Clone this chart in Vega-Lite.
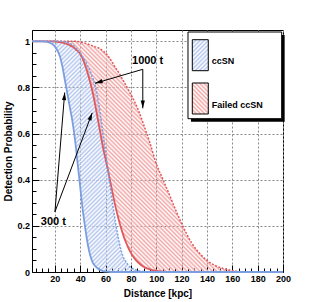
{
"$schema":"https://vega.github.io/schema/vega-lite/v6.json",
"width":251,"height":242,
"autosize":{"type":"none"},
"padding":{"left":32,"top":30,"right":32,"bottom":30},
"background":"white",
"config":{"view":{"stroke":"black","strokeWidth":1},"font":"Liberation Sans"},
"datasets":{
"curves":[
{"x":2,"bs":1,"bd":1,"rs":1,"rd":1},
{"x":10,"bs":1,"bd":1,"rs":1,"rd":1},
{"x":14,"bs":0.997,"bd":1,"rs":1,"rd":1},
{"x":18,"bs":0.988,"bd":1,"rs":1,"rd":1},
{"x":20,"bs":0.978,"bd":1,"rs":0.999,"rd":1},
{"x":22,"bs":0.96,"bd":1,"rs":0.998,"rd":1},
{"x":24,"bs":0.935,"bd":1,"rs":0.996,"rd":1},
{"x":26,"bs":0.89,"bd":0.999,"rs":0.994,"rd":1},
{"x":28,"bs":0.83,"bd":0.997,"rs":0.991,"rd":1},
{"x":30,"bs":0.77,"bd":0.995,"rs":0.988,"rd":1},
{"x":32,"bs":0.71,"bd":0.99,"rs":0.982,"rd":1},
{"x":34,"bs":0.65,"bd":0.985,"rs":0.976,"rd":1},
{"x":36,"bs":0.57,"bd":0.975,"rs":0.968,"rd":1},
{"x":38,"bs":0.47,"bd":0.963,"rs":0.958,"rd":0.999},
{"x":40,"bs":0.37,"bd":0.95,"rs":0.945,"rd":0.997},
{"x":42,"bs":0.27,"bd":0.933,"rs":0.925,"rd":0.995},
{"x":44,"bs":0.19,"bd":0.915,"rs":0.895,"rd":0.992},
{"x":46,"bs":0.12,"bd":0.893,"rs":0.86,"rd":0.988},
{"x":48,"bs":0.07,"bd":0.87,"rs":0.82,"rd":0.984},
{"x":50,"bs":0.04,"bd":0.84,"rs":0.775,"rd":0.98},
{"x":52,"bs":0.025,"bd":0.805,"rs":0.72,"rd":0.976},
{"x":54,"bs":0.015,"bd":0.75,"rs":0.66,"rd":0.972},
{"x":56,"bs":0.008,"bd":0.68,"rs":0.6,"rd":0.966},
{"x":58,"bs":0.004,"bd":0.6,"rs":0.54,"rd":0.958},
{"x":60,"bs":0.002,"bd":0.52,"rs":0.49,"rd":0.95},
{"x":62,"bs":0.001,"bd":0.44,"rs":0.44,"rd":0.936},
{"x":64,"bs":0,"bd":0.36,"rs":0.385,"rd":0.92},
{"x":66,"bs":0,"bd":0.28,"rs":0.33,"rd":0.903},
{"x":68,"bs":0,"bd":0.21,"rs":0.28,"rd":0.885},
{"x":70,"bs":0,"bd":0.15,"rs":0.235,"rd":0.868},
{"x":72,"bs":0,"bd":0.1,"rs":0.195,"rd":0.85},
{"x":74,"bs":0,"bd":0.065,"rs":0.16,"rd":0.83},
{"x":76,"bs":0,"bd":0.045,"rs":0.13,"rd":0.81},
{"x":78,"bs":0,"bd":0.03,"rs":0.105,"rd":0.79},
{"x":80,"bs":0,"bd":0.02,"rs":0.083,"rd":0.77},
{"x":83,"bs":0,"bd":0.011,"rs":0.058,"rd":0.737},
{"x":86,"bs":0,"bd":0.006,"rs":0.04,"rd":0.7},
{"x":90,"bs":0,"bd":0.002,"rs":0.023,"rd":0.64},
{"x":95,"bs":0,"bd":0,"rs":0.011,"rd":0.56},
{"x":100,"bs":0,"bd":0,"rs":0.005,"rd":0.47},
{"x":105,"bs":0,"bd":0,"rs":0.002,"rd":0.405},
{"x":110,"bs":0,"bd":0,"rs":0,"rd":0.34},
{"x":116,"bs":0,"bd":0,"rs":0,"rd":0.26},
{"x":120,"bs":0,"bd":0,"rs":0,"rd":0.21},
{"x":124,"bs":0,"bd":0,"rs":0,"rd":0.165},
{"x":128,"bs":0,"bd":0,"rs":0,"rd":0.125},
{"x":132,"bs":0,"bd":0,"rs":0,"rd":0.095},
{"x":136,"bs":0,"bd":0,"rs":0,"rd":0.07},
{"x":140,"bs":0,"bd":0,"rs":0,"rd":0.05},
{"x":145,"bs":0,"bd":0,"rs":0,"rd":0.032},
{"x":150,"bs":0,"bd":0,"rs":0,"rd":0.02},
{"x":155,"bs":0,"bd":0,"rs":0,"rd":0.012},
{"x":160,"bs":0,"bd":0,"rs":0,"rd":0.006},
{"x":165,"bs":0,"bd":0,"rs":0,"rd":0.002},
{"x":170,"bs":0,"bd":0,"rs":0,"rd":0},
{"x":180,"bs":0,"bd":0,"rs":0,"rd":0},
{"x":200,"bs":0,"bd":0,"rs":0,"rd":0}
],
"arrows":[
{"id":"a1","x":89.4,"y":0.8786,"x2":51.7,"y2":0.818},
{"id":"a2","x":89.4,"y":0.8786,"x2":89.4,"y2":0.7096},
{"id":"a3","x":20.1,"y":0.261,"x2":27.8,"y2":0.778},
{"id":"a4","x":20.1,"y":0.261,"x2":49.5,"y2":0.69}
],
"annot":[
{"x":93.2,"y":0.9146,"label":"1000 t"},
{"x":18.8,"y":0.2154,"label":"300 t"}
],
"legend":[
{"part":"shadow","x":127.4,"x2":201.3,"y":0.6515,"y2":1.027},
{"part":"box","x":125.05,"x2":198.97,"y":0.6645,"y2":1.0403},
{"part":"ccSN","x":128.45,"x2":141.07,"y":0.8726,"y2":1.007},
{"part":"Failed ccSN","x":128.45,"x2":141.07,"y":0.6849,"y2":0.8193}
],
"legtext":[
{"x":143.75,"y":0.9146,"label":"ccSN"},
{"x":143.75,"y":0.726,"label":"Failed ccSN"}
]
},
"resolve":{"axis":{"x":"independent","y":"independent"}},
"layer":[
{"data":{"name":"curves"},"transform":[{"filter":"datum.x >= 10 && datum.x <= 95"}],
"mark":{"type":"area","interpolate":"monotone","opacity":1,"fill":{"gradient":"linear","x1":0,"y1":0,"x2":0.7022,"y2":1.5055,"stops":[
{"offset":0.00,"color":"#b4c6ee"},{"offset":0.005,"color":"#b4c6ee00"},{"offset":0.01,"color":"#b4c6ee"},{"offset":0.015,"color":"#b4c6ee00"},{"offset":0.02,"color":"#b4c6ee"},{"offset":0.025,"color":"#b4c6ee00"},{"offset":0.03,"color":"#b4c6ee"},{"offset":0.035,"color":"#b4c6ee00"},{"offset":0.04,"color":"#b4c6ee"},{"offset":0.045,"color":"#b4c6ee00"},{"offset":0.05,"color":"#b4c6ee"},{"offset":0.055,"color":"#b4c6ee00"},{"offset":0.06,"color":"#b4c6ee"},{"offset":0.065,"color":"#b4c6ee00"},{"offset":0.07,"color":"#b4c6ee"},{"offset":0.075,"color":"#b4c6ee00"},{"offset":0.08,"color":"#b4c6ee"},{"offset":0.085,"color":"#b4c6ee00"},{"offset":0.09,"color":"#b4c6ee"},{"offset":0.095,"color":"#b4c6ee00"},
{"offset":0.10,"color":"#b4c6ee"},{"offset":0.105,"color":"#b4c6ee00"},{"offset":0.11,"color":"#b4c6ee"},{"offset":0.115,"color":"#b4c6ee00"},{"offset":0.12,"color":"#b4c6ee"},{"offset":0.125,"color":"#b4c6ee00"},{"offset":0.13,"color":"#b4c6ee"},{"offset":0.135,"color":"#b4c6ee00"},{"offset":0.14,"color":"#b4c6ee"},{"offset":0.145,"color":"#b4c6ee00"},{"offset":0.15,"color":"#b4c6ee"},{"offset":0.155,"color":"#b4c6ee00"},{"offset":0.16,"color":"#b4c6ee"},{"offset":0.165,"color":"#b4c6ee00"},{"offset":0.17,"color":"#b4c6ee"},{"offset":0.175,"color":"#b4c6ee00"},{"offset":0.18,"color":"#b4c6ee"},{"offset":0.185,"color":"#b4c6ee00"},{"offset":0.19,"color":"#b4c6ee"},{"offset":0.195,"color":"#b4c6ee00"},
{"offset":0.20,"color":"#b4c6ee"},{"offset":0.205,"color":"#b4c6ee00"},{"offset":0.21,"color":"#b4c6ee"},{"offset":0.215,"color":"#b4c6ee00"},{"offset":0.22,"color":"#b4c6ee"},{"offset":0.225,"color":"#b4c6ee00"},{"offset":0.23,"color":"#b4c6ee"},{"offset":0.235,"color":"#b4c6ee00"},{"offset":0.24,"color":"#b4c6ee"},{"offset":0.245,"color":"#b4c6ee00"},{"offset":0.25,"color":"#b4c6ee"},{"offset":0.255,"color":"#b4c6ee00"},{"offset":0.26,"color":"#b4c6ee"},{"offset":0.265,"color":"#b4c6ee00"},{"offset":0.27,"color":"#b4c6ee"},{"offset":0.275,"color":"#b4c6ee00"},{"offset":0.28,"color":"#b4c6ee"},{"offset":0.285,"color":"#b4c6ee00"},{"offset":0.29,"color":"#b4c6ee"},{"offset":0.295,"color":"#b4c6ee00"},
{"offset":0.30,"color":"#b4c6ee"},{"offset":0.305,"color":"#b4c6ee00"},{"offset":0.31,"color":"#b4c6ee"},{"offset":0.315,"color":"#b4c6ee00"},{"offset":0.32,"color":"#b4c6ee"},{"offset":0.325,"color":"#b4c6ee00"},{"offset":0.33,"color":"#b4c6ee"},{"offset":0.335,"color":"#b4c6ee00"},{"offset":0.34,"color":"#b4c6ee"},{"offset":0.345,"color":"#b4c6ee00"},{"offset":0.35,"color":"#b4c6ee"},{"offset":0.355,"color":"#b4c6ee00"},{"offset":0.36,"color":"#b4c6ee"},{"offset":0.365,"color":"#b4c6ee00"},{"offset":0.37,"color":"#b4c6ee"},{"offset":0.375,"color":"#b4c6ee00"},{"offset":0.38,"color":"#b4c6ee"},{"offset":0.385,"color":"#b4c6ee00"},{"offset":0.39,"color":"#b4c6ee"},{"offset":0.395,"color":"#b4c6ee00"},
{"offset":0.40,"color":"#b4c6ee"},{"offset":0.405,"color":"#b4c6ee00"},{"offset":0.41,"color":"#b4c6ee"},{"offset":0.415,"color":"#b4c6ee00"},{"offset":0.42,"color":"#b4c6ee"},{"offset":0.425,"color":"#b4c6ee00"},{"offset":0.43,"color":"#b4c6ee"},{"offset":0.435,"color":"#b4c6ee00"},{"offset":0.44,"color":"#b4c6ee"},{"offset":0.445,"color":"#b4c6ee00"},{"offset":0.45,"color":"#b4c6ee"},{"offset":0.455,"color":"#b4c6ee00"},{"offset":0.46,"color":"#b4c6ee"},{"offset":0.465,"color":"#b4c6ee00"},{"offset":0.47,"color":"#b4c6ee"},{"offset":0.475,"color":"#b4c6ee00"},{"offset":0.48,"color":"#b4c6ee"},{"offset":0.485,"color":"#b4c6ee00"},{"offset":0.49,"color":"#b4c6ee"},{"offset":0.495,"color":"#b4c6ee00"},
{"offset":0.50,"color":"#b4c6ee"},{"offset":0.505,"color":"#b4c6ee00"},{"offset":0.51,"color":"#b4c6ee"},{"offset":0.515,"color":"#b4c6ee00"},{"offset":0.52,"color":"#b4c6ee"},{"offset":0.525,"color":"#b4c6ee00"},{"offset":0.53,"color":"#b4c6ee"},{"offset":0.535,"color":"#b4c6ee00"},{"offset":0.54,"color":"#b4c6ee"},{"offset":0.545,"color":"#b4c6ee00"},{"offset":0.55,"color":"#b4c6ee"},{"offset":0.555,"color":"#b4c6ee00"},{"offset":0.56,"color":"#b4c6ee"},{"offset":0.565,"color":"#b4c6ee00"},{"offset":0.57,"color":"#b4c6ee"},{"offset":0.575,"color":"#b4c6ee00"},{"offset":0.58,"color":"#b4c6ee"},{"offset":0.585,"color":"#b4c6ee00"},{"offset":0.59,"color":"#b4c6ee"},{"offset":0.595,"color":"#b4c6ee00"},
{"offset":0.60,"color":"#b4c6ee"},{"offset":0.605,"color":"#b4c6ee00"},{"offset":0.61,"color":"#b4c6ee"},{"offset":0.615,"color":"#b4c6ee00"},{"offset":0.62,"color":"#b4c6ee"},{"offset":0.625,"color":"#b4c6ee00"},{"offset":0.63,"color":"#b4c6ee"},{"offset":0.635,"color":"#b4c6ee00"},{"offset":0.64,"color":"#b4c6ee"},{"offset":0.645,"color":"#b4c6ee00"},{"offset":0.65,"color":"#b4c6ee"},{"offset":0.655,"color":"#b4c6ee00"},{"offset":0.66,"color":"#b4c6ee"},{"offset":0.665,"color":"#b4c6ee00"},{"offset":0.67,"color":"#b4c6ee"},{"offset":0.675,"color":"#b4c6ee00"},{"offset":0.68,"color":"#b4c6ee"},{"offset":0.685,"color":"#b4c6ee00"},{"offset":0.69,"color":"#b4c6ee"},{"offset":0.695,"color":"#b4c6ee00"},
{"offset":0.70,"color":"#b4c6ee"},{"offset":0.705,"color":"#b4c6ee00"},{"offset":0.71,"color":"#b4c6ee"},{"offset":0.715,"color":"#b4c6ee00"},{"offset":0.72,"color":"#b4c6ee"},{"offset":0.725,"color":"#b4c6ee00"},{"offset":0.73,"color":"#b4c6ee"},{"offset":0.735,"color":"#b4c6ee00"},{"offset":0.74,"color":"#b4c6ee"},{"offset":0.745,"color":"#b4c6ee00"},{"offset":0.75,"color":"#b4c6ee"},{"offset":0.755,"color":"#b4c6ee00"},{"offset":0.76,"color":"#b4c6ee"},{"offset":0.765,"color":"#b4c6ee00"},{"offset":0.77,"color":"#b4c6ee"},{"offset":0.775,"color":"#b4c6ee00"},{"offset":0.78,"color":"#b4c6ee"},{"offset":0.785,"color":"#b4c6ee00"},{"offset":0.79,"color":"#b4c6ee"},{"offset":0.795,"color":"#b4c6ee00"},
{"offset":0.80,"color":"#b4c6ee"},{"offset":0.805,"color":"#b4c6ee00"},{"offset":0.81,"color":"#b4c6ee"},{"offset":0.815,"color":"#b4c6ee00"},{"offset":0.82,"color":"#b4c6ee"},{"offset":0.825,"color":"#b4c6ee00"},{"offset":0.83,"color":"#b4c6ee"},{"offset":0.835,"color":"#b4c6ee00"},{"offset":0.84,"color":"#b4c6ee"},{"offset":0.845,"color":"#b4c6ee00"},{"offset":0.85,"color":"#b4c6ee"}
]}},
"encoding":{
"x":{"field":"x","type":"quantitative","scale":{"domain":[2,200],"nice":false,"zero":false},
"axis":{"orient":"bottom","values":[20,40,60,80,100,120,140,160,180,200],"ticks":false,"domain":true,"domainColor":"black","domainWidth":1,"grid":true,"gridColor":"#888","gridDash":[2,2],"gridWidth":1,"labelFont":"Liberation Sans","labelFontWeight":"bold","labelFontSize":9,"labelColor":"black","labelPadding":2,"labelFlush":false,"labelOverlap":false,"format":"d","title":"Distance [kpc]","titleFont":"Liberation Sans","titleFontWeight":"bold","titleFontSize":10,"titleColor":"black","titleX":125.5,"titleY":21,"titleAlign":"center","titleBaseline":"middle"}},
"y":{"field":"bd","type":"quantitative","scale":{"domain":[0,1.049],"nice":false,"zero":false},
"axis":{"orient":"left","values":[0,0.2,0.4,0.6,0.8,1],"ticks":false,"domain":true,"domainColor":"black","domainWidth":1,"grid":true,"gridColor":"#888","gridDash":[2,2],"gridWidth":1,"labelFont":"Liberation Sans","labelFontWeight":"bold","labelFontSize":9,"labelColor":"black","labelPadding":2.5,"labelFlush":false,"labelOverlap":false,"labelExpr":"datum.value == 0 ? '0' : datum.value == 1 ? '1' : format(datum.value, '.1f')","title":"Detection Probability","titleFont":"Liberation Sans","titleFontWeight":"bold","titleFontSize":10,"titleColor":"black","titleX":-23.5,"titleY":121,"titleAngle":-90,"titleAlign":"center","titleBaseline":"middle"}},
"y2":{"field":"bs"}}},
{"data":{"name":"curves"},"transform":[{"filter":"datum.x >= 18 && datum.x <= 170"}],
"mark":{"type":"area","interpolate":"monotone","opacity":1,"fill":{"gradient":"linear","x1":0,"y1":1,"x2":0.9015,"y2":-0.081,"stops":[
{"offset":0.00,"color":"#f2a6a6"},{"offset":0.005,"color":"#f2a6a600"},{"offset":0.01,"color":"#f2a6a6"},{"offset":0.015,"color":"#f2a6a600"},{"offset":0.02,"color":"#f2a6a6"},{"offset":0.025,"color":"#f2a6a600"},{"offset":0.03,"color":"#f2a6a6"},{"offset":0.035,"color":"#f2a6a600"},{"offset":0.04,"color":"#f2a6a6"},{"offset":0.045,"color":"#f2a6a600"},{"offset":0.05,"color":"#f2a6a6"},{"offset":0.055,"color":"#f2a6a600"},{"offset":0.06,"color":"#f2a6a6"},{"offset":0.065,"color":"#f2a6a600"},{"offset":0.07,"color":"#f2a6a6"},{"offset":0.075,"color":"#f2a6a600"},{"offset":0.08,"color":"#f2a6a6"},{"offset":0.085,"color":"#f2a6a600"},{"offset":0.09,"color":"#f2a6a6"},{"offset":0.095,"color":"#f2a6a600"},
{"offset":0.10,"color":"#f2a6a6"},{"offset":0.105,"color":"#f2a6a600"},{"offset":0.11,"color":"#f2a6a6"},{"offset":0.115,"color":"#f2a6a600"},{"offset":0.12,"color":"#f2a6a6"},{"offset":0.125,"color":"#f2a6a600"},{"offset":0.13,"color":"#f2a6a6"},{"offset":0.135,"color":"#f2a6a600"},{"offset":0.14,"color":"#f2a6a6"},{"offset":0.145,"color":"#f2a6a600"},{"offset":0.15,"color":"#f2a6a6"},{"offset":0.155,"color":"#f2a6a600"},{"offset":0.16,"color":"#f2a6a6"},{"offset":0.165,"color":"#f2a6a600"},{"offset":0.17,"color":"#f2a6a6"},{"offset":0.175,"color":"#f2a6a600"},{"offset":0.18,"color":"#f2a6a6"},{"offset":0.185,"color":"#f2a6a600"},{"offset":0.19,"color":"#f2a6a6"},{"offset":0.195,"color":"#f2a6a600"},
{"offset":0.20,"color":"#f2a6a6"},{"offset":0.205,"color":"#f2a6a600"},{"offset":0.21,"color":"#f2a6a6"},{"offset":0.215,"color":"#f2a6a600"},{"offset":0.22,"color":"#f2a6a6"},{"offset":0.225,"color":"#f2a6a600"},{"offset":0.23,"color":"#f2a6a6"},{"offset":0.235,"color":"#f2a6a600"},{"offset":0.24,"color":"#f2a6a6"},{"offset":0.245,"color":"#f2a6a600"},{"offset":0.25,"color":"#f2a6a6"},{"offset":0.255,"color":"#f2a6a600"},{"offset":0.26,"color":"#f2a6a6"},{"offset":0.265,"color":"#f2a6a600"},{"offset":0.27,"color":"#f2a6a6"},{"offset":0.275,"color":"#f2a6a600"},{"offset":0.28,"color":"#f2a6a6"},{"offset":0.285,"color":"#f2a6a600"},{"offset":0.29,"color":"#f2a6a6"},{"offset":0.295,"color":"#f2a6a600"},
{"offset":0.30,"color":"#f2a6a6"},{"offset":0.305,"color":"#f2a6a600"},{"offset":0.31,"color":"#f2a6a6"},{"offset":0.315,"color":"#f2a6a600"},{"offset":0.32,"color":"#f2a6a6"},{"offset":0.325,"color":"#f2a6a600"},{"offset":0.33,"color":"#f2a6a6"},{"offset":0.335,"color":"#f2a6a600"},{"offset":0.34,"color":"#f2a6a6"},{"offset":0.345,"color":"#f2a6a600"},{"offset":0.35,"color":"#f2a6a6"},{"offset":0.355,"color":"#f2a6a600"},{"offset":0.36,"color":"#f2a6a6"},{"offset":0.365,"color":"#f2a6a600"},{"offset":0.37,"color":"#f2a6a6"},{"offset":0.375,"color":"#f2a6a600"},{"offset":0.38,"color":"#f2a6a6"},{"offset":0.385,"color":"#f2a6a600"},{"offset":0.39,"color":"#f2a6a6"},{"offset":0.395,"color":"#f2a6a600"},
{"offset":0.40,"color":"#f2a6a6"},{"offset":0.405,"color":"#f2a6a600"},{"offset":0.41,"color":"#f2a6a6"},{"offset":0.415,"color":"#f2a6a600"},{"offset":0.42,"color":"#f2a6a6"},{"offset":0.425,"color":"#f2a6a600"},{"offset":0.43,"color":"#f2a6a6"},{"offset":0.435,"color":"#f2a6a600"},{"offset":0.44,"color":"#f2a6a6"},{"offset":0.445,"color":"#f2a6a600"},{"offset":0.45,"color":"#f2a6a6"},{"offset":0.455,"color":"#f2a6a600"},{"offset":0.46,"color":"#f2a6a6"},{"offset":0.465,"color":"#f2a6a600"},{"offset":0.47,"color":"#f2a6a6"},{"offset":0.475,"color":"#f2a6a600"},{"offset":0.48,"color":"#f2a6a6"},{"offset":0.485,"color":"#f2a6a600"},{"offset":0.49,"color":"#f2a6a6"},{"offset":0.495,"color":"#f2a6a600"},
{"offset":0.50,"color":"#f2a6a6"},{"offset":0.505,"color":"#f2a6a600"},{"offset":0.51,"color":"#f2a6a6"},{"offset":0.515,"color":"#f2a6a600"},{"offset":0.52,"color":"#f2a6a6"},{"offset":0.525,"color":"#f2a6a600"},{"offset":0.53,"color":"#f2a6a6"},{"offset":0.535,"color":"#f2a6a600"},{"offset":0.54,"color":"#f2a6a6"},{"offset":0.545,"color":"#f2a6a600"},{"offset":0.55,"color":"#f2a6a6"},{"offset":0.555,"color":"#f2a6a600"},{"offset":0.56,"color":"#f2a6a6"},{"offset":0.565,"color":"#f2a6a600"},{"offset":0.57,"color":"#f2a6a6"},{"offset":0.575,"color":"#f2a6a600"},{"offset":0.58,"color":"#f2a6a6"},{"offset":0.585,"color":"#f2a6a600"},{"offset":0.59,"color":"#f2a6a6"},{"offset":0.595,"color":"#f2a6a600"},
{"offset":0.60,"color":"#f2a6a6"},{"offset":0.605,"color":"#f2a6a600"},{"offset":0.61,"color":"#f2a6a6"},{"offset":0.615,"color":"#f2a6a600"},{"offset":0.62,"color":"#f2a6a6"},{"offset":0.625,"color":"#f2a6a600"},{"offset":0.63,"color":"#f2a6a6"},{"offset":0.635,"color":"#f2a6a600"},{"offset":0.64,"color":"#f2a6a6"},{"offset":0.645,"color":"#f2a6a600"},{"offset":0.65,"color":"#f2a6a6"},{"offset":0.655,"color":"#f2a6a600"},{"offset":0.66,"color":"#f2a6a6"},{"offset":0.665,"color":"#f2a6a600"},{"offset":0.67,"color":"#f2a6a6"},{"offset":0.675,"color":"#f2a6a600"},{"offset":0.68,"color":"#f2a6a6"},{"offset":0.685,"color":"#f2a6a600"},{"offset":0.69,"color":"#f2a6a6"},{"offset":0.695,"color":"#f2a6a600"},
{"offset":0.70,"color":"#f2a6a6"},{"offset":0.705,"color":"#f2a6a600"},{"offset":0.71,"color":"#f2a6a6"},{"offset":0.715,"color":"#f2a6a600"},{"offset":0.72,"color":"#f2a6a6"},{"offset":0.725,"color":"#f2a6a600"},{"offset":0.73,"color":"#f2a6a6"},{"offset":0.735,"color":"#f2a6a600"},{"offset":0.74,"color":"#f2a6a6"},{"offset":0.745,"color":"#f2a6a600"},{"offset":0.75,"color":"#f2a6a6"},{"offset":0.755,"color":"#f2a6a600"},{"offset":0.76,"color":"#f2a6a6"},{"offset":0.765,"color":"#f2a6a600"},{"offset":0.77,"color":"#f2a6a6"},{"offset":0.775,"color":"#f2a6a600"},{"offset":0.78,"color":"#f2a6a6"},{"offset":0.785,"color":"#f2a6a600"},{"offset":0.79,"color":"#f2a6a6"},{"offset":0.795,"color":"#f2a6a600"},
{"offset":0.80,"color":"#f2a6a6"},{"offset":0.805,"color":"#f2a6a600"},{"offset":0.81,"color":"#f2a6a6"},{"offset":0.815,"color":"#f2a6a600"},{"offset":0.82,"color":"#f2a6a6"},{"offset":0.825,"color":"#f2a6a600"},{"offset":0.83,"color":"#f2a6a6"},{"offset":0.835,"color":"#f2a6a600"},{"offset":0.84,"color":"#f2a6a6"},{"offset":0.845,"color":"#f2a6a600"},{"offset":0.85,"color":"#f2a6a6"},{"offset":0.855,"color":"#f2a6a600"},{"offset":0.86,"color":"#f2a6a6"},{"offset":0.865,"color":"#f2a6a600"},{"offset":0.87,"color":"#f2a6a6"},{"offset":0.875,"color":"#f2a6a600"},{"offset":0.88,"color":"#f2a6a6"},{"offset":0.885,"color":"#f2a6a600"},{"offset":0.89,"color":"#f2a6a6"},{"offset":0.895,"color":"#f2a6a600"},
{"offset":0.90,"color":"#f2a6a6"},{"offset":0.905,"color":"#f2a6a600"},{"offset":0.91,"color":"#f2a6a6"},{"offset":0.915,"color":"#f2a6a600"},{"offset":0.92,"color":"#f2a6a6"},{"offset":0.925,"color":"#f2a6a600"},{"offset":0.93,"color":"#f2a6a6"},{"offset":0.935,"color":"#f2a6a600"},{"offset":0.94,"color":"#f2a6a6"},{"offset":0.945,"color":"#f2a6a600"},{"offset":0.95,"color":"#f2a6a6"},{"offset":0.955,"color":"#f2a6a600"},{"offset":0.96,"color":"#f2a6a6"},{"offset":0.965,"color":"#f2a6a600"},{"offset":0.97,"color":"#f2a6a6"},{"offset":0.975,"color":"#f2a6a600"},{"offset":0.98,"color":"#f2a6a6"},{"offset":0.985,"color":"#f2a6a600"},{"offset":0.99,"color":"#f2a6a6"},{"offset":0.995,"color":"#f2a6a600"},{"offset":1,"color":"#f2a6a6"}
]}},
"encoding":{
"x":{"field":"x","type":"quantitative","scale":{"domain":[2,200],"nice":false,"zero":false},
"axis":{"orient":"bottom","values":[20,40,60,80,100,120,140,160,180,200],"labels":false,"grid":false,"domain":false,"ticks":true,"tickSize":-7,"tickColor":"black","tickWidth":1,"title":null}},
"y":{"field":"rd","type":"quantitative","scale":{"domain":[0,1.049],"nice":false,"zero":false},
"axis":{"orient":"left","values":[0.2,0.4,0.6,0.8,1],"labels":false,"grid":false,"domain":false,"ticks":true,"tickSize":-7,"tickColor":"black","tickWidth":1,"title":null}},
"y2":{"field":"rs"}}},
{"data":{"name":"curves"},
"mark":{"type":"line","interpolate":"monotone","color":"#e0585a","strokeWidth":1.5,"strokeDash":[2,1.5]},
"encoding":{
"x":{"field":"x","type":"quantitative","scale":{"domain":[2,200],"nice":false,"zero":false},
"axis":{"orient":"bottom","values":[5,10,15,25,30,35,45,50,55,65,70,75,85,90,95,105,110,115,125,130,135,145,150,155,165,170,175,185,190,195],"labels":false,"grid":false,"domain":false,"ticks":true,"tickSize":-4,"tickColor":"black","tickWidth":1,"title":null}},
"y":{"field":"rd","type":"quantitative","scale":{"domain":[0,1.049],"nice":false,"zero":false},
"axis":{"orient":"left","values":[0.05,0.1,0.15,0.25,0.3,0.35,0.45,0.5,0.55,0.65,0.7,0.75,0.85,0.9,0.95],"labels":false,"grid":false,"domain":false,"ticks":true,"tickSize":-4,"tickColor":"black","tickWidth":1,"title":null}}}},
{"data":{"name":"curves"},
"mark":{"type":"line","interpolate":"monotone","color":"#e0585a","strokeWidth":1.8},
"encoding":{"x":{"field":"x","type":"quantitative","axis":null},"y":{"field":"rs","type":"quantitative","axis":null}}},
{"data":{"name":"curves"},
"mark":{"type":"line","interpolate":"monotone","color":"#7b9ee0","strokeWidth":1.5,"strokeDash":[2,1.5]},
"encoding":{"x":{"field":"x","type":"quantitative","axis":null},"y":{"field":"bd","type":"quantitative","axis":null}}},
{"data":{"name":"curves"},
"mark":{"type":"line","interpolate":"monotone","color":"#7b9ee0","strokeWidth":1.8},
"encoding":{"x":{"field":"x","type":"quantitative","axis":null},"y":{"field":"bs","type":"quantitative","axis":null}}},
{"data":{"name":"legend"},"transform":[{"filter":"datum.part == 'shadow'"}],
"mark":{"type":"rect","fill":"black"},
"encoding":{"x":{"field":"x","type":"quantitative","axis":null},"x2":{"field":"x2"},"y":{"field":"y","type":"quantitative","axis":null},"y2":{"field":"y2"}}},
{"data":{"name":"legend"},"transform":[{"filter":"datum.part == 'box'"}],
"mark":{"type":"rect","fill":"white","stroke":"black","strokeWidth":1},
"encoding":{"x":{"field":"x","type":"quantitative","axis":null},"x2":{"field":"x2"},"y":{"field":"y","type":"quantitative","axis":null},"y2":{"field":"y2"}}},
{"data":{"name":"legend"},"transform":[{"filter":"datum.part == 'ccSN'"}],
"mark":{"type":"rect","stroke":"black","strokeWidth":1,"fill":{"gradient":"linear","x1":0,"y1":0,"x2":5.56,"y2":10.77,"stops":[
{"offset":0.00,"color":"#b4c6ee"},{"offset":0.005,"color":"#b4c6ee00"},{"offset":0.01,"color":"#b4c6ee"},{"offset":0.015,"color":"#b4c6ee00"},{"offset":0.02,"color":"#b4c6ee"},{"offset":0.025,"color":"#b4c6ee00"},{"offset":0.03,"color":"#b4c6ee"},{"offset":0.035,"color":"#b4c6ee00"},{"offset":0.04,"color":"#b4c6ee"},{"offset":0.045,"color":"#b4c6ee00"},{"offset":0.05,"color":"#b4c6ee"},{"offset":0.055,"color":"#b4c6ee00"},{"offset":0.06,"color":"#b4c6ee"},{"offset":0.065,"color":"#b4c6ee00"},{"offset":0.07,"color":"#b4c6ee"},{"offset":0.075,"color":"#b4c6ee00"},{"offset":0.08,"color":"#b4c6ee"},{"offset":0.085,"color":"#b4c6ee00"},{"offset":0.09,"color":"#b4c6ee"},{"offset":0.095,"color":"#b4c6ee00"},{"offset":0.10,"color":"#b4c6ee"},{"offset":0.105,"color":"#b4c6ee00"},{"offset":0.11,"color":"#b4c6ee"},{"offset":0.115,"color":"#b4c6ee00"},{"offset":0.12,"color":"#b4c6ee"}
]}},
"encoding":{"x":{"field":"x","type":"quantitative","axis":null},"x2":{"field":"x2"},"y":{"field":"y","type":"quantitative","axis":null},"y2":{"field":"y2"}}},
{"data":{"name":"legend"},"transform":[{"filter":"datum.part == 'Failed ccSN'"}],
"mark":{"type":"rect","stroke":"black","strokeWidth":1,"fill":{"gradient":"linear","x1":0,"y1":1,"x2":5.56,"y2":-9.77,"stops":[
{"offset":0.00,"color":"#f2a6a6"},{"offset":0.005,"color":"#f2a6a600"},{"offset":0.01,"color":"#f2a6a6"},{"offset":0.015,"color":"#f2a6a600"},{"offset":0.02,"color":"#f2a6a6"},{"offset":0.025,"color":"#f2a6a600"},{"offset":0.03,"color":"#f2a6a6"},{"offset":0.035,"color":"#f2a6a600"},{"offset":0.04,"color":"#f2a6a6"},{"offset":0.045,"color":"#f2a6a600"},{"offset":0.05,"color":"#f2a6a6"},{"offset":0.055,"color":"#f2a6a600"},{"offset":0.06,"color":"#f2a6a6"},{"offset":0.065,"color":"#f2a6a600"},{"offset":0.07,"color":"#f2a6a6"},{"offset":0.075,"color":"#f2a6a600"},{"offset":0.08,"color":"#f2a6a6"},{"offset":0.085,"color":"#f2a6a600"},{"offset":0.09,"color":"#f2a6a6"},{"offset":0.095,"color":"#f2a6a600"},{"offset":0.10,"color":"#f2a6a6"},{"offset":0.105,"color":"#f2a6a600"},{"offset":0.11,"color":"#f2a6a6"},{"offset":0.115,"color":"#f2a6a600"},{"offset":0.12,"color":"#f2a6a6"}
]}},
"encoding":{"x":{"field":"x","type":"quantitative","axis":null},"x2":{"field":"x2"},"y":{"field":"y","type":"quantitative","axis":null},"y2":{"field":"y2"}}},
{"data":{"name":"legtext"},
"mark":{"type":"text","font":"Liberation Sans","fontWeight":"bold","fontSize":9,"align":"left","baseline":"middle","color":"black"},
"encoding":{"x":{"field":"x","type":"quantitative","axis":null},"y":{"field":"y","type":"quantitative","axis":null},"text":{"field":"label"}}},
{"data":{"name":"annot"},
"mark":{"type":"text","font":"Liberation Sans","fontWeight":"bold","fontSize":11,"align":"center","baseline":"middle","color":"black"},
"encoding":{"x":{"field":"x","type":"quantitative","axis":null},"y":{"field":"y","type":"quantitative","axis":null},"text":{"field":"label"}}},
{"data":{"name":"arrows"},
"mark":{"type":"rule","color":"black","strokeWidth":1},
"encoding":{"x":{"field":"x","type":"quantitative","axis":null},"x2":{"field":"x2"},"y":{"field":"y","type":"quantitative","axis":null},"y2":{"field":"y2"}}},
{"data":{"name":"arrows"},"transform":[{"filter":"datum.id == 'a1'"}],
"mark":{"type":"point","shape":"M0,0L-0.6,2.2L0.6,2.2Z","filled":true,"color":"black","opacity":1,"size":49,"angle":253.7},
"encoding":{"x":{"field":"x2","type":"quantitative","axis":null},"y":{"field":"y2","type":"quantitative","axis":null}}},
{"data":{"name":"arrows"},"transform":[{"filter":"datum.id == 'a2'"}],
"mark":{"type":"point","shape":"M0,0L-0.6,2.2L0.6,2.2Z","filled":true,"color":"black","opacity":1,"size":49,"angle":180},
"encoding":{"x":{"field":"x2","type":"quantitative","axis":null},"y":{"field":"y2","type":"quantitative","axis":null}}},
{"data":{"name":"arrows"},"transform":[{"filter":"datum.id == 'a3'"}],
"mark":{"type":"point","shape":"M0,0L-0.6,2.2L0.6,2.2Z","filled":true,"color":"black","opacity":1,"size":49,"angle":4.7},
"encoding":{"x":{"field":"x2","type":"quantitative","axis":null},"y":{"field":"y2","type":"quantitative","axis":null}}},
{"data":{"name":"arrows"},"transform":[{"filter":"datum.id == 'a4'"}],
"mark":{"type":"point","shape":"M0,0L-0.6,2.2L0.6,2.2Z","filled":true,"color":"black","opacity":1,"size":49,"angle":20.6},
"encoding":{"x":{"field":"x2","type":"quantitative","axis":null},"y":{"field":"y2","type":"quantitative","axis":null}}}
]
}
